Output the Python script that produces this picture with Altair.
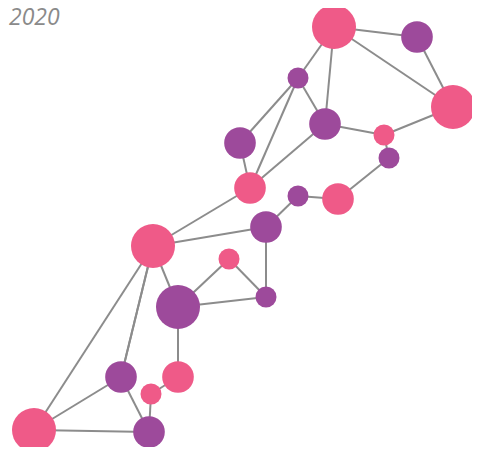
import altair as alt
import pandas as pd

# Node layout (layout units), sizes and groups
node_ids = ["A", "B", "C", "D", "E", "F", "G", "H", "I", "J", "K",
            "M", "N", "O", "P", "Q", "R", "S", "T", "U", "V"]
node_x = [334, 417, 453, 298, 325, 384, 389, 240, 250, 298, 338,
          153, 266, 229, 266, 178, 178, 121, 151, 34, 149]
node_y = [27, 37, 107, 78, 124, 135, 158, 143, 188, 196, 199,
          246, 227, 259, 297, 307, 377, 377, 394, 430, 432]
node_size = ["big", "mid", "big", "small", "mid", "small", "small", "mid", "mid", "small", "mid",
             "big", "mid", "small", "small", "big", "mid", "mid", "small", "big", "mid"]
node_group = ["pink", "purple", "pink", "purple", "purple", "pink", "purple", "purple", "pink", "purple", "pink",
              "pink", "purple", "pink", "purple", "purple", "pink", "purple", "pink", "pink", "purple"]

edge_src = ["A", "A", "B", "A", "A", "D", "D", "D", "H", "E", "E", "F", "F", "G", "K", "J",
            "I", "M", "M", "M", "N", "O", "O", "Q", "Q", "R", "T", "M", "M", "S", "S", "U"]
edge_dst = ["B", "C", "C", "D", "E", "H", "E", "I", "I", "I", "F", "C", "G", "K", "J", "N",
            "M", "N", "Q", "S", "P", "Q", "P", "P", "R", "T", "V", "U", "S", "U", "V", "V"]

year_label = ["2020"]

size_domain = ["big", "mid", "small"]
size_range = [1936, 1000, 441]
color_domain = ["pink", "purple"]
color_range = ["#ef5a88", "#9d4a9b"]

nodes = pd.DataFrame({"id": node_ids, "x": node_x, "y": node_y,
                      "size": node_size, "group": node_group})
pos = {i: (x, y) for i, x, y in zip(node_ids, node_x, node_y)}
edges = pd.DataFrame({
    "x": [pos[s][0] for s in edge_src], "y": [pos[s][1] for s in edge_src],
    "x2": [pos[d][0] for d in edge_dst], "y2": [pos[d][1] for d in edge_dst],
})
labels = pd.DataFrame({"text": year_label, "x": [9], "y": [25]})

xs = alt.Scale(domain=[8, 472], nice=False, zero=False)
ys = alt.Scale(domain=[8, 447], nice=False, zero=False, reverse=True)
noaxis = None

edge_layer = alt.Chart(edges).mark_rule(color="#8c8c8c", strokeWidth=2).encode(
    x=alt.X("x:Q", scale=xs, axis=noaxis),
    y=alt.Y("y:Q", scale=ys, axis=noaxis),
    x2="x2:Q", y2="y2:Q",
)

node_layer = alt.Chart(nodes).mark_circle(opacity=1).encode(
    x=alt.X("x:Q", scale=xs, axis=noaxis),
    y=alt.Y("y:Q", scale=ys, axis=noaxis),
    size=alt.Size("size:N", scale=alt.Scale(type="ordinal", domain=size_domain, range=size_range), legend=None),
    color=alt.Color("group:N", scale=alt.Scale(domain=color_domain, range=color_range), legend=None),
)

text_layer = alt.Chart(labels).mark_text(
    align="left", baseline="alphabetic", font="Open Sans", fontStyle="italic",
    fontSize=23, color="#8a8a8a"
).encode(
    x=alt.X("x:Q", scale=xs, axis=noaxis),
    y=alt.Y("y:Q", scale=ys, axis=noaxis),
    text="text:N",
)

chart = alt.layer(edge_layer, node_layer, text_layer).properties(
    width=464, height=439, padding=0,
    autosize=alt.AutoSizeParams(type="none"),
).configure_view(stroke=None)

chart.save("out.html", embed_options={"renderer": "svg", "actions": False})
